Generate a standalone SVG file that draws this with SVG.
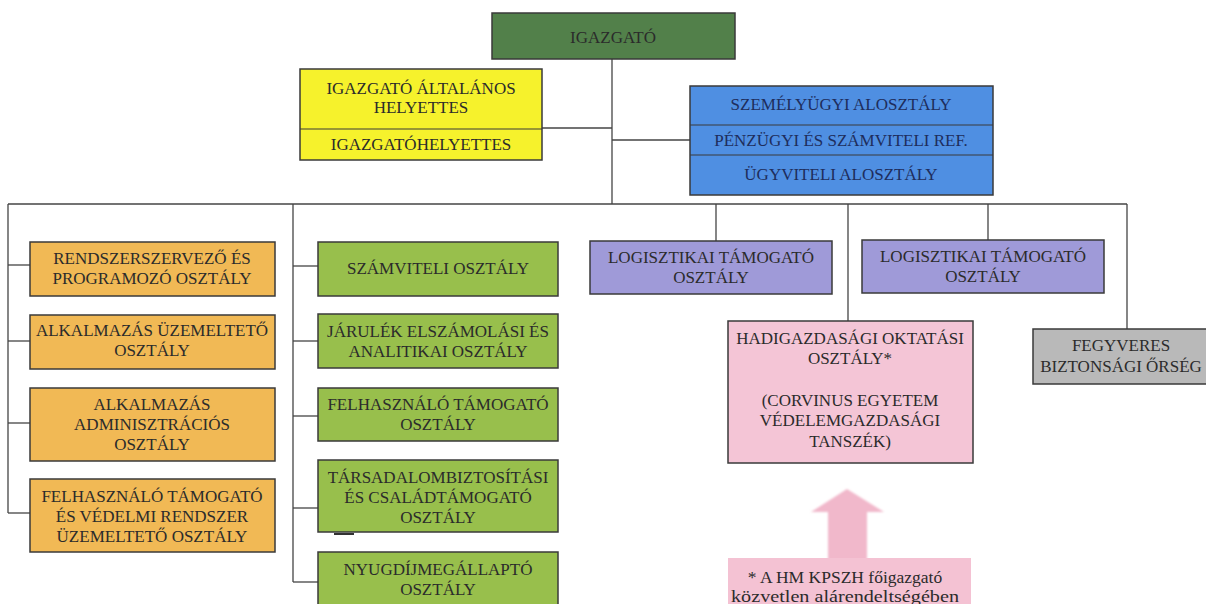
<svg xmlns="http://www.w3.org/2000/svg" width="1206" height="604" viewBox="0 0 1206 604">
  <style>
    text { font-family: "Liberation Serif", "Times New Roman", serif; font-size: 17px; fill: #2b2b2b; text-anchor: middle; dominant-baseline: central; }
    .box { stroke: #3a3a3a; stroke-width: 1.5; }
    .sep { stroke: #3a3a3a; stroke-width: 1.2; }
    .head { fill: #52804a; }
    .yellow { fill: #f6f22c; }
    .blue { fill: #4f8fe2; }
    .orange { fill: #f1b955; }
    .green { fill: #98bf4c; }
    .violet { fill: #9f9ad8; }
    .pink { fill: #f4c5d6; }
    .grey { fill: #b9b9b9; }
    .note { fill: #f4c2d3; }
    .blue-t { fill: #1e2d5c; }
    .conn line { stroke: #444; stroke-width: 1.3; }
    .fn { font-size: 17.5px; }
  </style>
  <defs>
    <filter id="soft" x="-20%" y="-20%" width="140%" height="140%">
      <feGaussianBlur stdDeviation="1.2"/>
    </filter>
  </defs>

  <rect width="1206" height="604" fill="#ffffff"/>

  <!-- connectors -->
  <g id="connectors" class="conn">
    <line x1="612" y1="59" x2="612" y2="204"/>
    <line x1="542" y1="128" x2="612" y2="128"/>
    <line x1="612" y1="140" x2="690" y2="140"/>
    <line x1="8" y1="204" x2="1127" y2="204"/>
    <!-- left column -->
    <line x1="8" y1="204" x2="8" y2="513"/>
    <line x1="8" y1="265" x2="30" y2="265"/>
    <line x1="8" y1="341" x2="30" y2="341"/>
    <line x1="8" y1="423" x2="30" y2="423"/>
    <line x1="8" y1="513" x2="30" y2="513"/>
    <!-- second column -->
    <line x1="293" y1="204" x2="293" y2="582"/>
    <line x1="293" y1="266" x2="318" y2="266"/>
    <line x1="293" y1="341" x2="318" y2="341"/>
    <line x1="293" y1="416" x2="318" y2="416"/>
    <line x1="293" y1="508" x2="318" y2="508"/>
    <line x1="293" y1="582" x2="318" y2="582"/>
    <!-- right branches -->
    <line x1="716" y1="204" x2="716" y2="241"/>
    <line x1="848" y1="204" x2="848" y2="321"/>
    <line x1="988" y1="204" x2="988" y2="240"/>
    <line x1="1127" y1="204" x2="1127" y2="329"/>
  </g>

  <!-- top -->
  <g id="igazgato">
    <rect class="box head" x="492" y="13" width="243" height="46"/>
    <text x="613" y="37" fill="#22301e">IGAZGATÓ</text>
  </g>

  <g id="helyettesek">
    <rect class="box yellow" x="300" y="69" width="242" height="91"/>
    <line class="sep" x1="300" y1="129" x2="542" y2="129"/>
    <text x="421" y="88">IGAZGATÓ ÁLTALÁNOS</text>
    <text x="421" y="107">HELYETTES</text>
    <text x="421" y="144">IGAZGATÓHELYETTES</text>
  </g>

  <g id="alosztalyok">
    <rect class="box blue" x="690" y="86" width="303" height="109"/>
    <line class="sep" x1="690" y1="125" x2="993" y2="125"/>
    <line class="sep" x1="690" y1="155" x2="993" y2="155"/>
    <text class="blue-t" x="841" y="104">SZEMÉLYÜGYI ALOSZTÁLY</text>
    <text class="blue-t" x="841" y="140">PÉNZÜGYI ÉS SZÁMVITELI REF.</text>
    <text class="blue-t" x="841" y="174">ÜGYVITELI ALOSZTÁLY</text>
  </g>

  <!-- left column -->
  <g id="rendszerszervezo">
    <rect class="box orange" x="30" y="242" width="245" height="54"/>
    <text x="152" y="258">RENDSZERSZERVEZŐ ÉS</text>
    <text x="152" y="278">PROGRAMOZÓ OSZTÁLY</text>
  </g>
  <g id="alkalmazas-uzemelteto">
    <rect class="box orange" x="30" y="315" width="245" height="54"/>
    <text x="152" y="330">ALKALMAZÁS ÜZEMELTETŐ</text>
    <text x="152" y="350">OSZTÁLY</text>
  </g>
  <g id="alkalmazas-adminisztracios">
    <rect class="box orange" x="30" y="388" width="245" height="73"/>
    <text x="152" y="404">ALKALMAZÁS</text>
    <text x="152" y="424">ADMINISZTRÁCIÓS</text>
    <text x="152" y="444">OSZTÁLY</text>
  </g>
  <g id="felhasznalo-vedelmi">
    <rect class="box orange" x="30" y="479" width="245" height="73"/>
    <text x="152" y="496">FELHASZNÁLÓ TÁMOGATÓ</text>
    <text x="152" y="516">ÉS VÉDELMI RENDSZER</text>
    <text x="152" y="536">ÜZEMELTETŐ OSZTÁLY</text>
  </g>

  <!-- second column -->
  <g id="szamviteli">
    <rect class="box green" x="318" y="242" width="240" height="54"/>
    <text x="438" y="268">SZÁMVITELI OSZTÁLY</text>
  </g>
  <g id="jarulek">
    <rect class="box green" x="318" y="314" width="240" height="54"/>
    <text x="438" y="331">JÁRULÉK ELSZÁMOLÁSI ÉS</text>
    <text x="438" y="351">ANALITIKAI OSZTÁLY</text>
  </g>
  <g id="felhasznalo-tamogato">
    <rect class="box green" x="318" y="388" width="240" height="53"/>
    <text x="438" y="404">FELHASZNÁLÓ TÁMOGATÓ</text>
    <text x="438" y="424">OSZTÁLY</text>
  </g>
  <g id="tarsadalombiztositasi">
    <rect class="box green" x="318" y="460" width="240" height="72"/>
    <text x="438" y="477">TÁRSADALOMBIZTOSÍTÁSI</text>
    <text x="438" y="497">ÉS CSALÁDTÁMOGATÓ</text>
    <text x="438" y="517">OSZTÁLY</text>
    <line x1="334" y1="534" x2="354" y2="534" stroke="#333" stroke-width="2"/>
  </g>
  <g id="nyugdijmegallapito">
    <rect class="box green" x="318" y="552" width="240" height="60"/>
    <text x="438" y="569">NYUGDÍJMEGÁLLAPTÓ</text>
    <text x="438" y="589">OSZTÁLY</text>
  </g>

  <!-- right side -->
  <g id="logisztikai-1">
    <rect class="box violet" x="590" y="241" width="242" height="53"/>
    <text x="711" y="257">LOGISZTIKAI TÁMOGATÓ</text>
    <text x="711" y="277">OSZTÁLY</text>
  </g>
  <g id="logisztikai-2">
    <rect class="box violet" x="862" y="240" width="242" height="53"/>
    <text x="983" y="256">LOGISZTIKAI TÁMOGATÓ</text>
    <text x="983" y="276">OSZTÁLY</text>
  </g>
  <g id="hadigazdasagi">
    <rect class="box pink" x="728" y="321" width="245" height="142"/>
    <text x="850" y="338">HADIGAZDASÁGI OKTATÁSI</text>
    <text x="850" y="358">OSZTÁLY*</text>
    <text x="850" y="400">(CORVINUS EGYETEM</text>
    <text x="850" y="420">VÉDELEMGAZDASÁGI</text>
    <text x="850" y="441">TANSZÉK)</text>
  </g>
  <g id="fegyveres">
    <rect class="box grey" x="1033" y="329" width="180" height="55"/>
    <text x="1121" y="345">FEGYVERES</text>
    <text x="1121" y="366">BIZTONSÁGI ŐRSÉG</text>
  </g>

  <!-- footnote with arrow -->
  <g id="labj">
    <polygon points="847,489 884,512 867,512 867,560 828,560 828,512 811,512" fill="#f1b8cb" filter="url(#soft)"/>
    <rect class="note" x="728" y="558" width="243" height="50"/>
    <text class="fn" x="845" y="577">* A HM KPSZH főigazgató</text>
    <text class="fn" x="845" y="596" textLength="228" lengthAdjust="spacingAndGlyphs">közvetlen alárendeltségében</text>
  </g>
</svg>
